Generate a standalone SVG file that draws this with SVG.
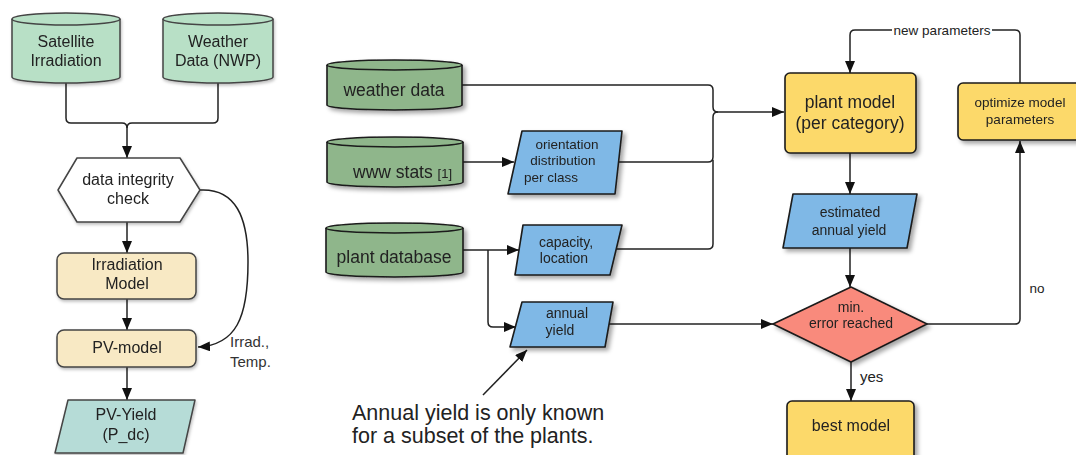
<svg xmlns="http://www.w3.org/2000/svg" width="1076" height="455" viewBox="0 0 1076 455">
<defs>
<style>
text{font-family:"Liberation Sans",Arial,sans-serif;fill:#222;text-anchor:middle}
.ls{stroke:#444;stroke-width:1.5}
.rs{stroke:#1a1a1a;stroke-width:1.6}
.c{fill:none;stroke:#222;stroke-width:1.5}
.lgreen{fill:#b8e0c6}
.cream{fill:#f8e9c4}
.teal{fill:#b6dcd7}
.dgreen{fill:#8fb68b}
.blue{fill:#7fb8e6}
.yellow{fill:#fcd96b}
.salmon{fill:#f98a7b}
.t16{font-size:16px}
.t17{font-size:17.5px}
.t14{font-size:14px}
.t13{font-size:13.5px}
</style>
<filter id="sh" x="-20%" y="-20%" width="150%" height="150%">
<feDropShadow dx="3" dy="3" stdDeviation="2" flood-color="#000" flood-opacity="0.35"/>
</filter>
<filter id="shl" x="-20%" y="-20%" width="150%" height="150%">
<feDropShadow dx="1" dy="2" stdDeviation="1.5" flood-color="#000" flood-opacity="0.25"/>
</filter>
<marker id="arr" viewBox="0 0 12 10" refX="12" refY="5" markerWidth="12" markerHeight="10" markerUnits="userSpaceOnUse" orient="auto">
<path d="M0,0 L12,5 L0,10 Z" fill="#111"/>
</marker>
</defs>
<rect width="1076" height="455" fill="#fff"/>

<!-- connectors -->
<g id="connectors">
<path class="c" d="M66,83 V118 Q66,123 71,123 H122 Q127,123 127,128 V158" marker-end="url(#arr)"/>
<path class="c" d="M218,83 V118 Q218,123 213,123 H132 Q127,123 127,128"/>
<path class="c" d="M127,222 V253" marker-end="url(#arr)"/>
<path class="c" d="M127,299 V330" marker-end="url(#arr)"/>
<path class="c" d="M127,367 V400" marker-end="url(#arr)"/>
<path class="c" d="M200,190 C236,188 248,218 248,262 C248,318 236,345 198,347" marker-end="url(#arr)"/>

<path class="c" d="M462,85 H708 Q713,85 713,90 V107 Q713,112 718,112 H784" marker-end="url(#arr)"/>
<path class="c" d="M618,162 H708 Q713,162 713,157 V117 Q713,112 718,112"/>
<path class="c" d="M616,249 H708 Q713,249 713,244 V160"/>
<path class="c" d="M463,162 H514" marker-end="url(#arr)"/>
<path class="c" d="M463,250 H519" marker-end="url(#arr)"/>
<path class="c" d="M488,250 V322 Q488,327 493,327 H516" marker-end="url(#arr)"/>
<path class="c" d="M609,324 H773" marker-end="url(#arr)"/>
<path class="c" d="M483,395 L527,350" marker-end="url(#arr)"/>
<path class="c" d="M850,153 V194" marker-end="url(#arr)"/>
<path class="c" d="M850,248 V287" marker-end="url(#arr)"/>
<path class="c" d="M851,362 V401" marker-end="url(#arr)"/>
<path class="c" d="M927,324 H1015 Q1020,324 1020,319 V141" marker-end="url(#arr)"/>
<path class="c" d="M1020,83 V35 Q1020,30 1015,30 H855 Q850,30 850,35 V73" marker-end="url(#arr)"/>
<rect x="892" y="22" width="100" height="16" fill="#fff"/>
<text class="t13" x="942" y="35">new parameters</text>
<text class="t13" x="1037" y="293">no</text>
<text style="font-size:15px;text-anchor:start" x="860" y="382">yes</text>
<text style="font-size:15px;text-anchor:start;fill:#333" x="230" y="347">Irrad.,</text>
<text style="font-size:15px;text-anchor:start;fill:#333" x="230" y="367">Temp.</text>
</g>

<!-- left nodes -->
<g id="satellite" filter="url(#shl)">
<path class="lgreen ls" d="M12,19 A54,6 0 0 1 120,19 V77 A54,6 0 0 1 12,77 Z"/>
<path class="ls" fill="none" d="M12,19 A54,6 0 0 0 120,19"/>
<text class="t16" x="66" y="47">Satellite</text>
<text class="t16" x="66" y="66">Irradiation</text>
</g>
<g id="weather-nwp" filter="url(#shl)">
<path class="lgreen ls" d="M163,19 A55,6 0 0 1 273,19 V77 A55,6 0 0 1 163,77 Z"/>
<path class="ls" fill="none" d="M163,19 A55,6 0 0 0 273,19"/>
<text class="t16" x="218" y="47">Weather</text>
<text class="t16" x="218" y="66">Data (NWP)</text>
</g>
<g id="integrity" filter="url(#shl)">
<path fill="#fff" class="ls" d="M58,190 L77,158 H180 L200,190 L180,222 H77 Z" stroke-linejoin="round"/>
<text class="t16" x="128" y="185">data integrity</text>
<text class="t16" x="128" y="204">check</text>
</g>
<g id="irradiation-model" filter="url(#shl)">
<rect class="cream ls" x="57" y="253" width="139" height="46" rx="7"/>
<text class="t16" x="127" y="270">Irradiation</text>
<text class="t16" x="127" y="289">Model</text>
</g>
<g id="pv-model" filter="url(#shl)">
<rect class="cream ls" x="57" y="330" width="139" height="37" rx="7"/>
<text class="t16" x="127" y="353">PV-model</text>
</g>
<g id="pv-yield" filter="url(#shl)">
<path class="teal ls" d="M68,400 H195 L183,453 H55 Z" stroke-linejoin="round"/>
<text class="t16" x="126" y="420">PV-Yield</text>
<text class="t16" x="126" y="440">(P_dc)</text>
</g>

<!-- right nodes -->
<g id="weather-data" filter="url(#sh)">
<path class="dgreen rs" d="M327,65 A67.5,5 0 0 1 462,65 V105 A67.5,5 0 0 1 327,105 Z"/>
<path class="rs" fill="none" d="M327,65 A67.5,5 0 0 0 462,65"/>
<text class="t17" x="394" y="96">weather data</text>
</g>
<g id="www-stats" filter="url(#sh)">
<path class="dgreen rs" d="M327,142 A68,5 0 0 1 463,142 V182 A68,5 0 0 1 327,182 Z"/>
<path class="rs" fill="none" d="M327,142 A68,5 0 0 0 463,142"/>
<text class="t17" x="353" y="178" style="text-anchor:start">www stats <tspan style="font-size:13px">[1]</tspan></text>
</g>
<g id="plant-database" filter="url(#sh)">
<path class="dgreen rs" d="M326,228 A68.5,5 0 0 1 463,228 V272 A68.5,5 0 0 1 326,272 Z"/>
<path class="rs" fill="none" d="M326,228 A68.5,5 0 0 0 463,228"/>
<text class="t17" x="394" y="263">plant database</text>
</g>
<g id="orientation" filter="url(#sh)">
<path class="blue rs" d="M522,131 H622 L615,194 H508 Z" stroke-linejoin="round"/>
<text class="t13" x="567" y="149">orientation</text>
<text class="t13" x="563" y="165">distribution</text>
<text class="t13" x="551" y="182">per class</text>
</g>
<g id="capacity" filter="url(#sh)">
<path class="blue rs" d="M523,225 H622 L610,275 H515 Z" stroke-linejoin="round"/>
<text class="t14" x="566" y="247">capacity,</text>
<text class="t14" x="564" y="263">location</text>
</g>
<g id="annual-yield" filter="url(#sh)">
<path class="blue rs" d="M522,302 H613 L605,347 H510 Z" stroke-linejoin="round"/>
<text class="t14" x="567" y="318">annual</text>
<text class="t14" x="560" y="335">yield</text>
</g>
<g id="plant-model" filter="url(#sh)">
<rect class="yellow rs" x="785" y="73" width="131" height="80" rx="5"/>
<text class="t17" x="850" y="108">plant model</text>
<text class="t17" x="850" y="129">(per category)</text>
</g>
<g id="optimize" filter="url(#sh)">
<rect class="yellow rs" x="958" y="83" width="126" height="57" rx="5"/>
<text class="t13" x="1020" y="107">optimize model</text>
<text class="t13" x="1020" y="124">parameters</text>
</g>
<g id="estimated" filter="url(#sh)">
<path class="blue rs" d="M793,194 H917 L907,248 H783 Z" stroke-linejoin="round"/>
<text class="t14" x="850" y="217">estimated</text>
<text class="t14" x="849" y="235">annual yield</text>
</g>
<g id="min-error" filter="url(#sh)">
<path class="salmon rs" d="M851,287 L927,324 L851,362 L773,324 Z" stroke-linejoin="round"/>
<text class="t14" x="851" y="312">min.</text>
<text class="t14" x="851" y="328">error reached</text>
</g>
<g id="best-model" filter="url(#sh)">
<rect class="yellow rs" x="787" y="401" width="127" height="62" rx="5"/>
<text class="t16" x="851" y="431">best model</text>
</g>

<g id="annotation">
<text x="352" y="420" style="font-size:21.5px;text-anchor:start">Annual yield is only known</text>
<text x="352" y="443" style="font-size:21.5px;text-anchor:start">for a subset of the plants.</text>
</g>
</svg>
